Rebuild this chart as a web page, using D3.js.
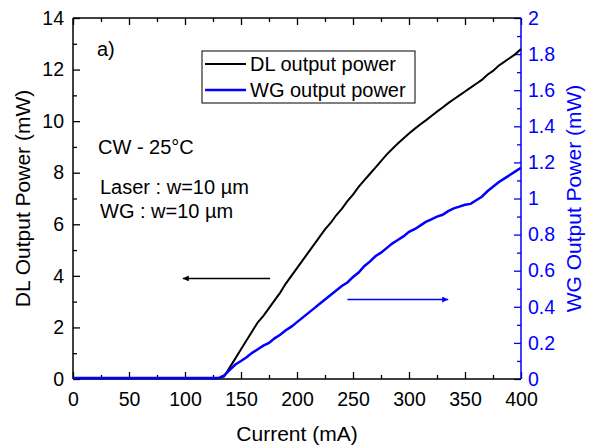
<!DOCTYPE html>
<html><head><meta charset="utf-8">
<script src="https://cdn.jsdelivr.net/npm/d3@7/dist/d3.min.js"></script>
<style>
html,body{margin:0;padding:0;background:#fff;}
svg{display:block;font-family:"Liberation Sans",Arial,sans-serif;}
</style></head>
<body><svg id="c" width="591" height="448"></svg>
<script>
// ---- data ----
const current = [0,10,20,30,40,50,60,70,80,90,100,110,120,130,
  135,140,145,150,155,160,165,170,175,180,185,190,195,200,205,210,215,220,225,230,235,240,245,250,
  255,260,265,270,275,280,285,290,295,300,305,310,315,320,325,330,335,340,345,350,355,360,365,370,375,380,385,390,395,400];
const dlPower = [0.03,0.03,0.03,0.03,0.03,0.03,0.03,0.03,0.03,0.03,0.03,0.03,0.03,0.03,
  0.1,0.45,0.8,1.15,1.5,1.85,2.2,2.45,2.75,3.05,3.35,3.7,4.0,4.3,4.6,4.9,5.2,5.5,5.8,6.05,6.35,6.6,6.9,7.15,
  7.45,7.7,7.95,8.2,8.45,8.7,8.92,9.13,9.33,9.52,9.7,9.87,10.03,10.2,10.37,10.53,10.7,10.85,11.0,11.15,11.3,11.45,11.6,11.8,11.95,12.15,12.3,12.45,12.6,12.8];
const wgPower = [0.005,0.005,0.005,0.005,0.005,0.005,0.005,0.005,0.005,0.005,0.005,0.005,0.005,0.005,
  0.02,0.05,0.08,0.1,0.12,0.145,0.165,0.185,0.2,0.225,0.245,0.27,0.29,0.315,0.34,0.365,0.39,0.415,0.44,0.465,0.49,0.515,0.535,0.565,
  0.59,0.625,0.65,0.68,0.7,0.725,0.75,0.77,0.79,0.815,0.83,0.85,0.87,0.885,0.9,0.91,0.93,0.945,0.955,0.965,0.97,0.99,1.01,1.04,1.065,1.09,1.11,1.13,1.15,1.17];
const xTicks = [0,50,100,150,200,250,300,350,400];
const xMinor = [25,75,125,175,225,275,325,375];
const yLeftTicks = [0,2,4,6,8,10,12,14];
const yLeftMinor = [1,3,5,7,9,11,13];
const yRightTicks = [0,0.2,0.4,0.6,0.8,1,1.2,1.4,1.6,1.8,2];
const yRightMinor = [0.1,0.3,0.5,0.7,0.9,1.1,1.3,1.5,1.7,1.9];
const seriesNames = ["DL output power","WG output power"];
const notes = ["a)","CW - 25°C","Laser : w=10 µm","WG : w=10 µm"];

// ---- layout ----
const L=73, R=521, T=18, B=379;
const BLUE="#0000ff";
const svg=d3.select("#c");
const x=d3.scaleLinear().domain([0,400]).range([L,R]);
const yL=d3.scaleLinear().domain([0,14]).range([B,T]);
const yR=d3.scaleLinear().domain([0,2]).range([B,T]);

function styleAxis(g,color){
  g.select(".domain").remove();
  g.selectAll("line").attr("stroke",color).attr("stroke-width",1.3);
  g.selectAll("text").attr("fill",color).attr("font-size","19.5px").attr("font-family","Liberation Sans, Arial, sans-serif");
}
// bottom
svg.append("g").attr("transform",`translate(0,${B})`)
  .call(d3.axisBottom(x).tickValues(xTicks).tickSize(-7).tickPadding(13).tickFormat(d3.format("d")))
  .call(g=>styleAxis(g,"#000"));
svg.append("g").attr("transform",`translate(0,${B})`)
  .call(d3.axisBottom(x).tickValues(xMinor).tickSize(-4).tickFormat(""))
  .call(g=>styleAxis(g,"#000"));
// top
svg.append("g").attr("transform",`translate(0,${T})`)
  .call(d3.axisTop(x).tickValues(xTicks).tickSize(-7).tickFormat(""))
  .call(g=>styleAxis(g,"#000"));
svg.append("g").attr("transform",`translate(0,${T})`)
  .call(d3.axisTop(x).tickValues(xMinor).tickSize(-4).tickFormat(""))
  .call(g=>styleAxis(g,"#000"));
// left
svg.append("g").attr("transform",`translate(${L},0)`)
  .call(d3.axisLeft(yL).tickValues(yLeftTicks).tickSize(-7).tickPadding(9).tickFormat(d3.format("d")))
  .call(g=>styleAxis(g,"#000"));
svg.append("g").attr("transform",`translate(${L},0)`)
  .call(d3.axisLeft(yL).tickValues(yLeftMinor).tickSize(-4).tickFormat(""))
  .call(g=>styleAxis(g,"#000"));
// right
svg.append("g").attr("transform",`translate(${R},0)`)
  .call(d3.axisRight(yR).tickValues(yRightTicks).tickSize(-7).tickPadding(7).tickFormat(d=>String(+d.toFixed(1))))
  .call(g=>styleAxis(g,BLUE));
svg.append("g").attr("transform",`translate(${R},0)`)
  .call(d3.axisRight(yR).tickValues(yRightMinor).tickSize(-4).tickFormat(""))
  .call(g=>styleAxis(g,BLUE));

// frame
svg.append("line").attr("x1",L).attr("x2",R).attr("y1",T).attr("y2",T).attr("stroke","#000").attr("stroke-width",1.5);
svg.append("line").attr("x1",L).attr("x2",R).attr("y1",B).attr("y2",B).attr("stroke","#000").attr("stroke-width",1.5);
svg.append("line").attr("x1",L).attr("x2",L).attr("y1",T).attr("y2",B).attr("stroke","#000").attr("stroke-width",1.5);
svg.append("line").attr("x1",R).attr("x2",R).attr("y1",T).attr("y2",B).attr("stroke",BLUE).attr("stroke-width",1.5);

// curves
const dlData=current.map((c,i)=>[c,dlPower[i]]);
const wgData=current.map((c,i)=>[c,wgPower[i]]);
svg.append("path").datum(dlData).attr("fill","none").attr("stroke","#000").attr("stroke-width",2)
  .attr("d",d3.line().x(d=>x(d[0])).y(d=>yL(d[1])));
svg.append("path").datum(wgData).attr("fill","none").attr("stroke",BLUE).attr("stroke-width",2.5)
  .attr("d",d3.line().x(d=>x(d[0])).y(d=>yR(d[1])));

// axis titles
svg.append("text").attr("x",(L+R)/2).attr("y",441).attr("text-anchor","middle").attr("font-size","21px").text("Current (mA)");
svg.append("text").attr("transform",`translate(30,${(T+B)/2}) rotate(-90)`).attr("text-anchor","middle").attr("font-size","21px").text("DL Output Power (mW)");
svg.append("text").attr("transform",`translate(581,${(T+B)/2}) rotate(-90)`).attr("text-anchor","middle").attr("font-size","21px").attr("fill",BLUE).text("WG Output Power (mW)");

// annotations
svg.append("text").attr("x",97).attr("y",56).attr("font-size","20px").text(notes[0]);
svg.append("text").attr("x",98).attr("y",154).attr("font-size","20px").text(notes[1]);
svg.append("text").attr("x",100).attr("y",194).attr("font-size","20px").text(notes[2]);
svg.append("text").attr("x",100).attr("y",218).attr("font-size","20px").text(notes[3]);

// arrows
const defs=svg.append("defs");
function marker(id,color){
  defs.append("marker").attr("id",id).attr("viewBox","0 0 10 10").attr("refX",10).attr("refY",5)
    .attr("markerWidth",14).attr("markerHeight",6).attr("markerUnits","userSpaceOnUse").attr("orient","auto")
    .append("path").attr("d","M0,0 L10,5 L0,10 Z").attr("fill",color);
}
marker("ab","#000"); marker("abl",BLUE);
svg.append("line").attr("x1",x(176)).attr("x2",x(98)).attr("y1",yL(3.9)).attr("y2",yL(3.9))
  .attr("stroke","#000").attr("stroke-width",1.5).attr("marker-end","url(#ab)");
svg.append("line").attr("x1",x(245)).attr("x2",x(335)).attr("y1",yR(0.44)).attr("y2",yR(0.44))
  .attr("stroke",BLUE).attr("stroke-width",1.5).attr("marker-end","url(#abl)");

// legend
const lg=svg.append("g");
lg.append("rect").attr("x",202).attr("y",51).attr("width",213).attr("height",52).attr("fill","#fff").attr("stroke","#000").attr("stroke-width",1);
[["#000",64],[BLUE,90]].forEach((s,i)=>{
  lg.append("line").attr("x1",205).attr("x2",246).attr("y1",s[1]).attr("y2",s[1]).attr("stroke",s[0]).attr("stroke-width",i?2.5:2);
  lg.append("text").attr("x",250).attr("y",s[1]+7).attr("font-size","20px").text(seriesNames[i]);
});
</script></body></html>
